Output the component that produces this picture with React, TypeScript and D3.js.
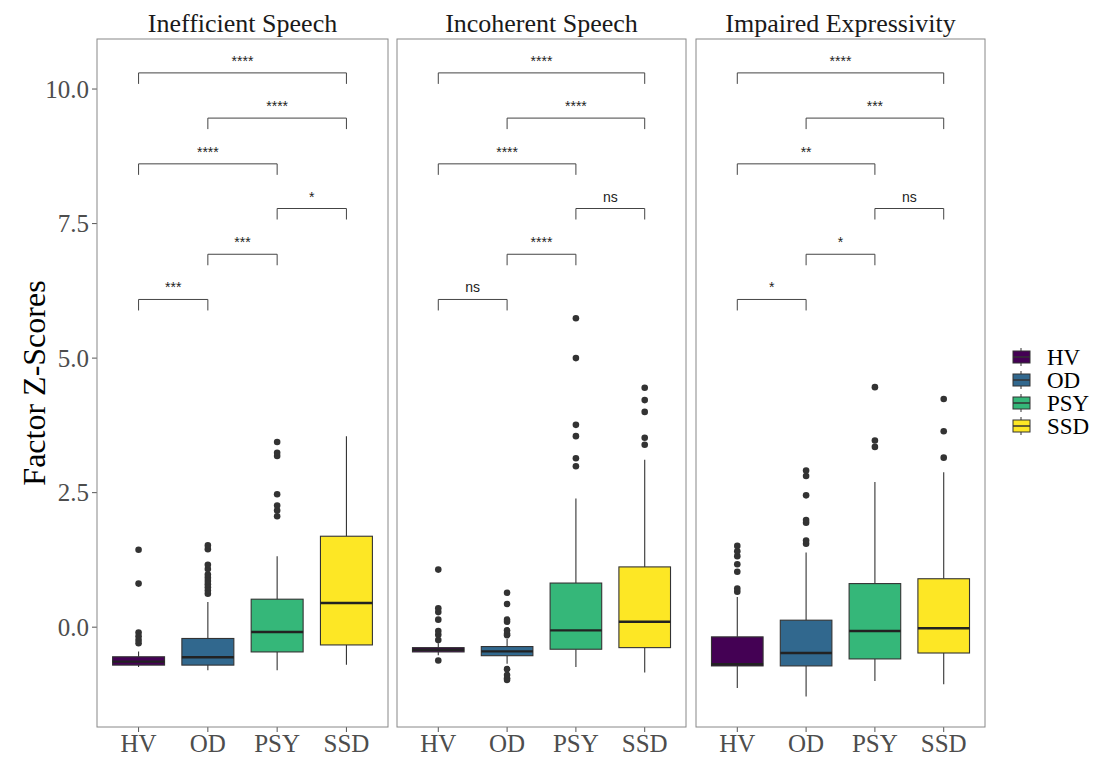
import React from "react";
import * as d3 from "d3";

const groups = ["HV", "OD", "PSY", "SSD"];
const colors = ["#440154", "#31688E", "#35B779", "#FDE725"];
const panels = ["Inefficient Speech", "Incoherent Speech", "Impaired Expressivity"];

// [whiskerLow, q1, median, q3, whiskerHigh] per panel per group
const stats1 = [
  [-0.74, -0.705, -0.64, -0.55, -0.45],
  [-0.8, -0.705, -0.56, -0.21, 0.47],
  [-0.8, -0.46, -0.09, 0.52, 1.32],
  [-0.7, -0.33, 0.45, 1.69, 3.55],
];
const stats2 = [
  [-0.52, -0.46, -0.42, -0.38, -0.3],
  [-0.68, -0.53, -0.45, -0.36, -0.22],
  [-0.74, -0.41, -0.06, 0.82, 2.39],
  [-0.84, -0.38, 0.1, 1.12, 3.11],
];
const stats3 = [
  [-1.13, -0.72, -0.69, -0.18, 0.56],
  [-1.29, -0.72, -0.48, 0.13, 1.39],
  [-1.0, -0.59, -0.07, 0.81, 2.7],
  [-1.06, -0.48, -0.02, 0.9, 2.88],
];
const outliers1 = [
  [-0.1, -0.17, -0.24, -0.3, 0.81, 1.44],
  [0.62, 0.68, 0.74, 0.8, 0.86, 0.92, 0.98, 1.08, 1.16, 1.45, 1.52],
  [2.06, 2.17, 2.26, 2.47, 3.18, 3.24, 3.44],
  [],
];
const outliers2 = [
  [-0.62, -0.24, -0.14, -0.07, 0.14, 0.28, 0.35, 1.07],
  [-0.98, -0.95, -0.89, -0.78, -0.15, -0.12, -0.06, 0.1, 0.14, 0.43, 0.64],
  [2.99, 3.14, 3.55, 3.76, 5.0, 5.74],
  [3.39, 3.52, 4.0, 4.22, 4.45],
];
const outliers3 = [
  [0.66, 0.72, 1.03, 1.17, 1.32, 1.41, 1.51],
  [1.55, 1.61, 1.94, 1.99, 2.45, 2.81, 2.91],
  [3.35, 3.47, 4.46],
  [3.15, 3.64, 4.24],
];

// comparisons: [from, to, y]
const pairs: [number, number, number][] = [
  [0, 1, 6.09],
  [1, 2, 6.93],
  [2, 3, 7.78],
  [0, 2, 8.61],
  [1, 3, 9.46],
  [0, 3, 10.3],
];
const labels1 = ["***", "***", "*", "****", "****", "****"];
const labels2 = ["ns", "****", "ns", "****", "****", "****"];
const labels3 = ["*", "*", "ns", "**", "***", "****"];

const yTicks = [0, 2.5, 5, 7.5, 10];

const allStats = [stats1, stats2, stats3];
const allOut = [outliers1, outliers2, outliers3];
const allLabels = [labels1, labels2, labels3];

const panelX = [[97, 388], [397, 686], [696, 985]];
const top = 39;
const bottom = 727;

export default function App() {
  const y = d3.scaleLinear().domain([-1.855, 10.93]).range([bottom, top]);
  const serif = "'Liberation Serif', 'Times New Roman', serif";
  const sans = "'Liberation Sans', Arial, sans-serif";
  const tipLen = 11;
  return (
    <svg width={1093} height={757} style={{ display: "block", position: "absolute", left: 0, top: 0 }}>
      <rect x={0} y={0} width={1093} height={757} fill="#fff" />
      {yTicks.map((t) => (
        <g key={t}>
          <line x1={92} x2={97} y1={y(t)} y2={y(t)} stroke="#555" strokeWidth={1} />
          <text x={89} y={y(t)} dy="0.35em" textAnchor="end" fontFamily={serif} fontSize={25} fill="#4d4d4d">
            {d3.format(".1f")(t)}
          </text>
        </g>
      ))}
      <text
        transform={`translate(45, ${(top + bottom) / 2}) rotate(-90)`}
        textAnchor="middle"
        fontFamily={serif}
        fontSize={32}
        fill="#000"
      >
        Factor Z-Scores
      </text>
      {panels.map((name, pi) => {
        const [x0, x1] = panelX[pi];
        const unit = (x1 - x0) / 4.2;
        const pos = d3.scalePoint().domain(groups).range([x0 + unit * 0.6, x1 - unit * 0.6]);
        const cx = (i: number) => pos(groups[i]) as number;
        const bw = unit * 0.75;
        return (
          <g key={name}>
            <text x={(x0 + x1) / 2} y={32} textAnchor="middle" fontFamily={serif} fontSize={26} fill="#1a1a1a">
              {name}
            </text>
            {groups.map((g, gi) => {
              const s = allStats[pi][gi];
              const c = cx(gi);
              return (
                <g key={g}>
                  <line x1={c} x2={c} y1={y(s[0])} y2={y(s[1])} stroke="#333" strokeWidth={1.1} />
                  <line x1={c} x2={c} y1={y(s[3])} y2={y(s[4])} stroke="#333" strokeWidth={1.1} />
                  <rect
                    x={c - bw / 2}
                    y={y(s[3])}
                    width={bw}
                    height={Math.max(1, y(s[1]) - y(s[3]))}
                    fill={colors[gi]}
                    stroke="#333"
                    strokeWidth={1.1}
                  />
                  <line x1={c - bw / 2} x2={c + bw / 2} y1={y(s[2])} y2={y(s[2])} stroke="#222" strokeWidth={2.4} />
                  {allOut[pi][gi].map((v, k) => (
                    <circle key={k} cx={c} cy={y(v)} r={3.3} fill="#333" />
                  ))}
                  <line x1={c} x2={c} y1={bottom} y2={bottom + 5} stroke="#555" strokeWidth={1} />
                  <text x={c} y={bottom + 25} textAnchor="middle" fontFamily={serif} fontSize={25} fill="#4d4d4d">
                    {g}
                  </text>
                </g>
              );
            })}
            {pairs.map(([a, b, v], k) => {
              const lab = allLabels[pi][k];
              const xa = cx(a);
              const xb = cx(b);
              const yy = y(v);
              return (
                <g key={k}>
                  <path
                    d={`M${xa},${yy + tipLen}V${yy}H${xb}V${yy + tipLen}`}
                    fill="none"
                    stroke="#444"
                    strokeWidth={1}
                  />
                  <text
                    x={(xa + xb) / 2}
                    y={yy - 7}
                    textAnchor="middle"
                    fontFamily={sans}
                    fontSize={14}
                    fill="#222"
                  >
                    {lab}
                  </text>
                </g>
              );
            })}
            <rect x={x0} y={top} width={x1 - x0} height={bottom - top} fill="none" stroke="#888" strokeWidth={1} />
          </g>
        );
      })}
      {groups.map((g, gi) => {
        const cy = 357 + gi * 23;
        return (
          <g key={g}>
            <line x1={1021} x2={1021} y1={cy - 9} y2={cy + 9} stroke="#333" strokeWidth={1} />
            <rect x={1013} y={cy - 6} width={17} height={12} fill={colors[gi]} stroke="#333" strokeWidth={1} />
            <line x1={1013} x2={1030} y1={cy} y2={cy} stroke="#333" strokeWidth={1.5} />
            <text x={1047} y={cy} dy="0.35em" fontFamily={serif} fontSize={23} fill="#000">
              {g}
            </text>
          </g>
        );
      })}
    </svg>
  );
}
